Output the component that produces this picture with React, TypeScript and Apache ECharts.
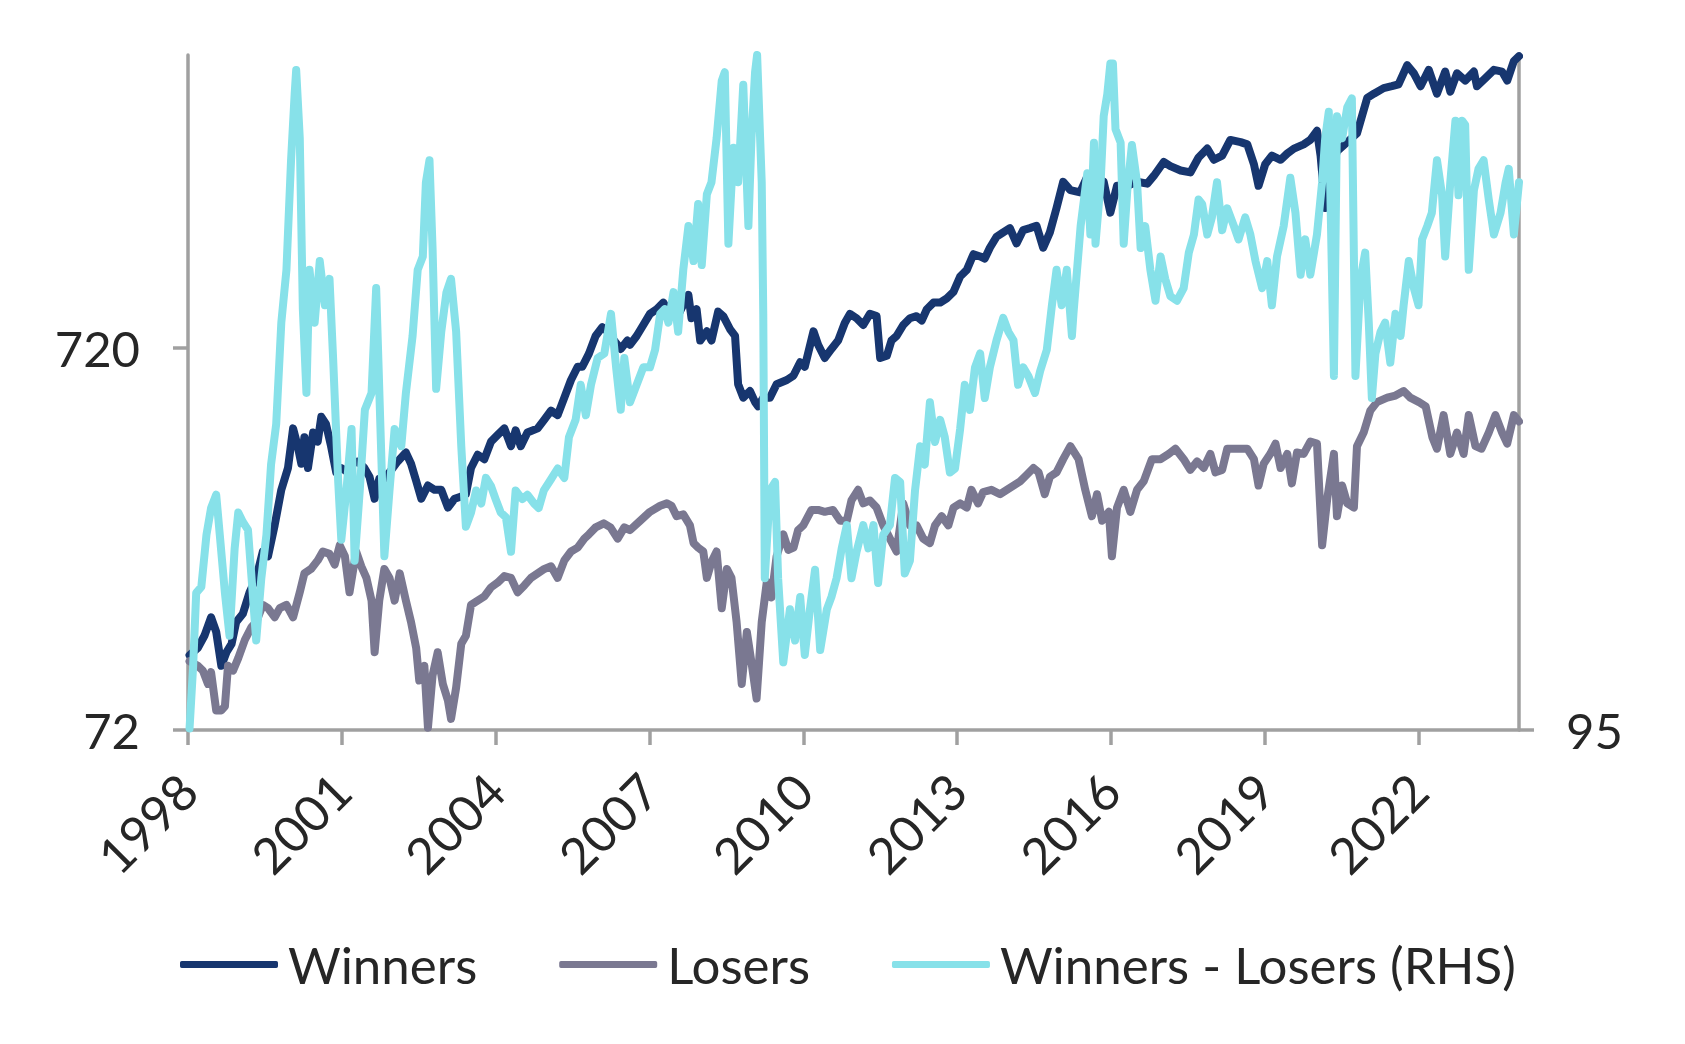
import React, { useEffect, useRef } from 'react';
import * as echarts from 'echarts';

// x: decimal year, y: index level
const yearTicks = [1998, 2001, 2004, 2007, 2010, 2013, 2016, 2019, 2022];
const leftTicks = [72, 720];
const rightTicks = [95];
const seriesNames = ['Winners', 'Losers', 'Winners - Losers (RHS)'];

const winners: [number, number][] = [
  [1998.03,113],[1998.19,118],[1998.32,127],[1998.45,142],[1998.55,130],[1998.65,106],[1998.75,115],[1998.85,121],[1998.94,138],[1999.07,145],[1999.20,165],[1999.33,180],[1999.46,211],[1999.56,205],[1999.69,247],[1999.82,306],[1999.95,349],[2000.05,443],[2000.14,398],[2000.21,358],[2000.27,420],[2000.34,349],[2000.44,432],[2000.53,409],[2000.60,475],[2000.69,455],[2000.79,398],[2000.89,340],[2000.99,349],[2001.12,340],[2001.21,358],[2001.31,363],[2001.44,349],[2001.54,331],[2001.64,290],[2001.73,327],[2001.83,327],[2001.93,340],[2002.09,363],[2002.25,383],[2002.35,358],[2002.45,323],[2002.55,290],[2002.68,314],[2002.81,306],[2002.94,306],[2003.07,275],[2003.20,290],[2003.33,294],[2003.42,298],[2003.52,349],[2003.65,378],[2003.78,368],[2003.91,409],[2004.04,426],[2004.17,443],[2004.30,398],[2004.39,438],[2004.49,398],[2004.62,432],[2004.82,443],[2004.95,467],[2005.08,493],[2005.21,480],[2005.34,533],[2005.47,593],[2005.60,642],[2005.69,642],[2005.82,695],[2005.95,773],[2006.08,815],[2006.18,795],[2006.31,752],[2006.44,715],[2006.57,752],
  [2006.62,733],[2006.75,773],[2006.88,826],[2007.01,883],[2007.14,908],[2007.27,945],[2007.40,883],[2007.53,860],[2007.66,933],[2007.76,990],[2007.82,860],[2007.92,908],[2007.99,752],[2008.12,795],[2008.21,752],[2008.34,895],[2008.44,871],[2008.57,806],[2008.67,773],[2008.73,578],[2008.83,533],[2008.96,555],[2009.06,519],[2009.12,506],[2009.22,533],[2009.35,533],[2009.48,578],[2009.68,593],[2009.81,609],[2009.94,660],[2010.03,642],[2010.20,795],[2010.29,733],[2010.42,677],[2010.55,715],[2010.68,752],[2010.81,836],[2010.91,883],[2011.04,860],[2011.17,826],[2011.30,883],[2011.43,871],[2011.50,677],[2011.63,686],[2011.72,752],[2011.82,773],[2011.95,826],[2012.08,860],[2012.21,871],[2012.31,848],[2012.41,908],[2012.54,945],[2012.67,945],[2012.80,970],[2012.93,1008],[2013.06,1106],[2013.19,1151],[2013.32,1265],[2013.45,1248],[2013.54,1232],[2013.64,1315],[2013.77,1405],[2013.90,1443],[2014.03,1480],[2014.16,1350],[2014.29,1463],[2014.42,1480],[2014.55,1501],[2014.68,1315],[2014.81,1443],[2014.94,1671],[2015.07,1957],
  [2015.21,1860],[2015.40,1835],[2015.53,2005],[2015.73,2005],[2015.86,1957],[2015.99,1625],[2016.12,1910],[2016.32,1910],[2016.51,1957],[2016.71,1935],[2016.84,2030],[2017.03,2205],[2017.16,2150],[2017.36,2095],[2017.55,2070],[2017.71,2265],[2017.88,2390],[2018.01,2234],[2018.17,2290],[2018.33,2518],[2018.53,2485],[2018.66,2452],[2018.79,2175],[2018.88,1910],[2019.01,2175],[2019.14,2290],[2019.31,2234],[2019.44,2320],[2019.57,2390],[2019.76,2452],[2019.89,2518],[2020.02,2660],[2020.09,2290],[2020.18,1671],[2020.25,2005],[2020.41,2350],[2020.61,2485],[2020.80,2620],[2020.90,2914],[2021.00,3245],[2021.13,3327],[2021.32,3440],[2021.48,3480],[2021.61,3520],[2021.78,3950],[2021.91,3760],[2022.04,3480],[2022.20,3840],[2022.36,3327],[2022.52,3800],[2022.62,3370],[2022.75,3760],[2022.91,3600],[2023.08,3800],[2023.14,3480],[2023.30,3650],[2023.47,3840],[2023.63,3800],[2023.73,3600],[2023.86,4050],[2023.96,4170]
];

const losers: [number, number][] = [
  [1998.03,109],[1998.19,106],[1998.29,103],[1998.39,95],[1998.45,102],[1998.55,81],[1998.65,81],[1998.72,83],[1998.78,106],[1998.88,103],[1998.98,111],[1999.11,124],[1999.24,134],[1999.33,138],[1999.46,153],[1999.56,150],[1999.69,142],[1999.79,150],[1999.92,153],[2000.05,142],[2000.18,165],[2000.27,185],[2000.40,190],[2000.53,200],[2000.63,211],[2000.76,208],[2000.86,195],[2000.96,219],[2001.06,205],[2001.15,165],[2001.28,211],[2001.38,193],[2001.48,180],[2001.58,157],[2001.64,115],[2001.73,157],[2001.83,190],[2001.93,180],[2002.03,157],[2002.13,185],[2002.25,157],[2002.35,138],[2002.45,118],[2002.51,97],[2002.61,106],[2002.68,73],[2002.77,100],[2002.87,115],[2002.97,95],[2003.07,86],[2003.13,77],[2003.23,93],[2003.33,121],[2003.42,127],[2003.52,153],[2003.65,157],[2003.78,161],[2003.91,170],[2004.04,175],[2004.17,182],[2004.30,180],[2004.43,165],[2004.56,172],[2004.69,180],[2004.82,185],[2004.95,190],[2005.08,193],[2005.21,180],[2005.34,200],[2005.47,211],[2005.60,216],[2005.73,228],[2005.82,234],[2005.95,244],[2006.11,250],[2006.24,244],[2006.38,228],[2006.51,244],
  [2006.62,240],[2006.82,254],[2007.01,268],[2007.21,278],[2007.34,282],[2007.43,278],[2007.53,261],[2007.66,264],[2007.79,247],[2007.86,222],[2007.95,216],[2008.05,211],[2008.12,180],[2008.21,198],[2008.31,211],[2008.41,150],[2008.51,190],[2008.60,180],[2008.70,138],[2008.80,95],[2008.90,130],[2009.00,106],[2009.09,87],[2009.19,138],[2009.29,176],[2009.38,160],[2009.48,205],[2009.61,234],[2009.71,213],[2009.81,216],[2009.90,240],[2010.00,247],[2010.16,271],[2010.29,271],[2010.42,268],[2010.58,271],[2010.72,254],[2010.85,254],[2010.94,287],[2011.07,306],[2011.17,282],[2011.30,287],[2011.43,275],[2011.56,247],[2011.69,228],[2011.82,211],[2011.95,282],[2012.08,247],[2012.21,247],[2012.34,228],[2012.47,222],[2012.57,247],[2012.70,261],[2012.83,247],[2012.93,275],[2013.06,282],[2013.19,275],[2013.28,306],[2013.41,282],[2013.51,302],[2013.67,306],[2013.84,298],[2013.97,306],[2014.10,314],[2014.23,322],[2014.36,335],[2014.49,349],[2014.59,340],[2014.71,298],[2014.81,331],[2014.94,340],[2015.07,368],
  [2015.21,398],[2015.37,368],[2015.50,306],[2015.63,261],[2015.73,298],[2015.83,254],[2015.96,268],[2016.02,205],[2016.12,275],[2016.25,306],[2016.38,268],[2016.51,306],[2016.64,322],[2016.80,368],[2016.97,368],[2017.13,380],[2017.26,392],[2017.42,368],[2017.55,345],[2017.68,363],[2017.81,349],[2017.94,380],[2018.04,340],[2018.17,345],[2018.27,392],[2018.46,392],[2018.66,392],[2018.79,368],[2018.88,314],[2018.98,358],[2019.11,380],[2019.21,404],[2019.31,349],[2019.44,380],[2019.53,318],[2019.63,383],[2019.76,380],[2019.89,409],[2020.02,404],[2020.12,219],[2020.22,290],[2020.35,380],[2020.41,261],[2020.51,314],[2020.61,282],[2020.74,275],[2020.80,398],[2020.93,432],[2021.06,493],[2021.19,519],[2021.39,533],[2021.55,540],[2021.71,555],[2021.84,533],[2022.01,519],[2022.14,506],[2022.27,420],[2022.36,392],[2022.49,480],[2022.62,380],[2022.75,432],[2022.88,380],[2022.98,480],[2023.11,398],[2023.23,392],[2023.37,432],[2023.50,480],[2023.63,432],[2023.73,404],[2023.86,480],[2023.96,462]
];

const spread: [number, number][] = [
  [1998.03,95.5],[1998.10,117.5],[1998.16,150],[1998.26,153],[1998.36,182],[1998.45,199],[1998.55,208],[1998.62,182],[1998.72,150],[1998.81,130],[1998.91,174],[1998.98,196],[1999.07,190],[1999.17,185],[1999.24,157.5],[1999.33,128],[1999.43,157.5],[1999.53,182],[1999.62,230],[1999.72,263],[1999.82,369],[1999.92,440],[2000.01,634],[2000.08,790],[2000.11,856],[2000.18,682],[2000.24,386],[2000.31,292],[2000.37,440],[2000.47,369],[2000.57,453],[2000.67,391],[2000.76,427],[2000.83,328],[2000.93,217],[2000.99,179],[2001.09,211],[2001.19,259],[2001.25,167],[2001.35,211],[2001.45,276],[2001.58,292],[2001.67,414],[2001.77,237],[2001.83,169.5],[2001.93,211],[2002.03,259],[2002.16,244.5],[2002.25,292],[2002.38,353],[2002.48,440],[2002.58,460],[2002.64,589],[2002.71,634],[2002.77,473],[2002.84,296],[2002.94,358],[2003.04,408],[2003.13,427],[2003.23,358],[2003.33,244.5],[2003.42,187],[2003.52,196],[2003.62,211],[2003.72,202],[2003.81,220],[2003.91,214],[2004.00,205],[2004.10,196],[2004.20,193],[2004.30,172],[2004.39,211],[2004.52,205],[2004.62,208],[2004.75,202],[2004.84,199],[2004.94,211],[2005.08,219],[2005.21,227],[2005.34,220],[2005.43,252],[2005.56,267],[2005.66,300],[2005.76,271],[2005.86,300],[2005.99,328],[2006.12,333],[2006.25,380],[2006.35,318],[2006.44,276],[2006.51,328],
  [2006.62,283],[2006.75,300],[2006.88,318],[2007.01,318],[2007.11,337],[2007.21,380],[2007.30,386],[2007.37,369],[2007.47,408.5],[2007.56,358],[2007.66,440],[2007.76,509],[2007.86,453],[2007.95,548],[2008.02,447],[2008.12,566],[2008.21,589],[2008.31,682],[2008.41,826],[2008.47,850],[2008.54,480],[2008.64,661],[2008.73,589],[2008.83,815],[2008.93,509],[2008.99,682],[2009.06,850],[2009.10,900],[2009.19,589],[2009.22,380],[2009.25,157.5],[2009.35,211],[2009.45,217],[2009.51,157.5],[2009.61,119],[2009.74,142],[2009.84,128],[2009.94,148],[2010.03,122],[2010.13,142],[2010.23,162],[2010.33,124],[2010.46,142],[2010.55,148],[2010.65,157.5],[2010.75,174],[2010.85,188],[2010.94,157.5],[2011.04,172],[2011.17,188],[2011.27,174],[2011.37,188],[2011.46,155],[2011.56,182],[2011.69,188],[2011.79,220],[2011.89,217],[2011.98,160],[2012.08,167],[2012.18,211],[2012.28,244.5],[2012.37,230],[2012.47,283],[2012.57,248],[2012.67,267],[2012.76,252],[2012.86,224],[2012.96,227],[2013.06,259],[2013.15,300],[2013.25,276],[2013.35,318],[2013.45,333],[2013.54,287],[2013.64,318],[2013.77,348],[2013.90,375],[2014.00,358],[2014.10,348],[2014.19,300],[2014.29,318],[2014.39,309],[2014.52,292],[2014.62,314],[2014.75,337],[2014.85,391],[2014.94,440],[2015.04,391],[2015.14,440],[2015.24,353],
  [2015.27,380],[2015.41,509],[2015.54,607],[2015.60,495],[2015.67,672],[2015.70,480],[2015.80,589],[2015.86,734],[2015.93,790],[2015.99,875],[2016.04,875],[2016.09,703],[2016.19,672],[2016.25,480],[2016.32,573],[2016.41,667],[2016.51,589],[2016.58,473],[2016.67,509],[2016.77,440],[2016.87,397],[2016.97,460],[2017.06,427],[2017.16,403],[2017.29,397],[2017.42,414],[2017.52,466],[2017.62,495],[2017.71,556],[2017.78,548],[2017.88,495],[2017.97,524],[2018.07,589],[2018.17,502],[2018.27,540],[2018.40,509],[2018.49,487],[2018.62,524],[2018.72,495],[2018.82,453],[2018.95,414],[2019.05,453],[2019.14,391],[2019.24,460],[2019.37,509],[2019.50,598],[2019.60,532],[2019.70,433],[2019.79,487],[2019.89,433],[2020.02,495],[2020.12,589],[2020.18,682],[2020.25,745],[2020.35,309],[2020.41,734],[2020.51,682],[2020.61,756],[2020.70,779],[2020.77,309],[2020.87,427],[2020.96,466],[2021.03,369],[2021.09,287],[2021.16,333],[2021.26,358],[2021.35,369],[2021.45,323],[2021.55,380],[2021.65,353],[2021.71,391],[2021.81,453],[2021.91,414],[2022.00,391],[2022.07,487],[2022.17,509],[2022.26,532],[2022.36,634],[2022.46,564],[2022.52,460],[2022.62,589],[2022.72,723],[2022.78,564],[2022.85,723],[2022.91,713],[2022.98,440],[2023.08,573],[2023.17,616],[2023.27,634],[2023.37,556],[2023.47,495],[2023.60,532],[2023.70,589],[2023.76,616],[2023.86,495],[2023.96,589]
];

const FONT = 'Lato';
const TEXT = '#262626';
const AXIS = '#a0a0a0';
const GRID = '#7f7b92';
const COLORS = ['#17366f', '#7a7891', '#87e1e9'];

export default function App() {
  const ref = useRef<HTMLDivElement>(null);
  useEffect(() => {
    if (!ref.current) return;
    const chart = echarts.init(ref.current, null, { renderer: 'svg' });
    const axisLineStyle = { color: AXIS, width: 3.5 };
    const lineSeries = (name: string, data: [number, number][], color: string, yAxisIndex: number) => ({
      name,
      type: 'line',
      data,
      yAxisIndex,
      showSymbol: false,
      symbol: 'none',
      color,
      lineStyle: { color, width: 8, cap: 'round', join: 'round' },
      emphasis: { disabled: true },
    });
    chart.setOption({
      animation: false,
      textStyle: { fontFamily: FONT },
      grid: { left: 188, right: 166, top: 55, bottom: 314, containLabel: false },
      legend: {
        show: true,
        left: 175,
        top: 934,
        itemWidth: 98,
        itemHeight: 7,
        itemGap: 82,
        icon: 'roundRect',
        data: seriesNames,
        textStyle: { fontFamily: FONT, fontSize: 51, color: TEXT, padding: [0, 0, 0, 5] },
      },
      xAxis: {
        type: 'value',
        min: 1998,
        max: 2023.96,
        axisLine: { show: true, onZero: false, lineStyle: axisLineStyle },
        axisTick: { show: true, length: 15, customValues: yearTicks, lineStyle: axisLineStyle },
        axisLabel: {
          customValues: yearTicks,
          rotate: 45,
          margin: 52,
          fontSize: 50,
          color: TEXT,
          fontFamily: FONT,
          formatter: (v: number) => String(v),
        },
        splitLine: { show: false },
      },
      yAxis: [
        {
          type: 'log',
          logBase: 10,
          min: 72,
          max: 4200,
          position: 'left',
          axisLine: { show: true, lineStyle: axisLineStyle },
          axisTick: { show: true, length: 15, customValues: leftTicks, lineStyle: axisLineStyle },
          axisLabel: { customValues: leftTicks, margin: 48, fontSize: 49, color: TEXT, fontFamily: FONT },
          splitLine: { show: true, showMinLine: false, showMaxLine: false, lineStyle: { color: GRID, width: 3 } },
          minorTick: { show: false },
        },
        {
          type: 'log',
          logBase: 10,
          min: 95,
          max: 900,
          position: 'right',
          axisLine: { show: true, lineStyle: axisLineStyle },
          axisTick: { show: true, length: 15, customValues: rightTicks, lineStyle: axisLineStyle },
          axisLabel: { customValues: rightTicks, margin: 47, fontSize: 49, color: TEXT, fontFamily: FONT },
          splitLine: { show: false },
        },
      ],
      series: [
        lineSeries(seriesNames[0], winners, COLORS[0], 0),
        lineSeries(seriesNames[1], losers, COLORS[1], 0),
        lineSeries(seriesNames[2], spread, COLORS[2], 1),
      ],
    });
    return () => chart.dispose();
  }, []);
  return <div ref={ref} style={{ position: 'absolute', left: 0, top: 0, width: 1685, height: 1044 }} />;
}
